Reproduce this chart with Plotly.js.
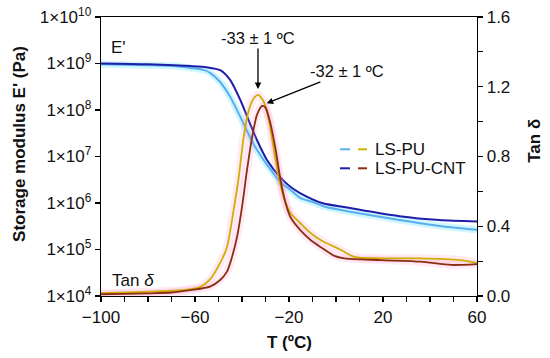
<!DOCTYPE html>
<html>
<head>
<meta charset="utf-8">
<script src="https://cdn.plot.ly/plotly-3.0.1.min.js"></script>
<style>html,body{margin:0;padding:0;background:#fff}#chart{width:550px;height:358px}</style>
</head>
<body>
<div id="chart"></div>
<script>
// ---- Data ----
// Storage modulus E' (Pa), LS-PU
const T_E_PU   = [-100, -90, -80, -70, -62, -56, -53.6, -49.3, -45, -40.7, -36.4, -33.6, -29.3, -23.6, -19.3, -15.3, -10, -4.7, 6, 27, 44, 60];
const E_PU     = [9.6e8, 9.4e8, 9.2e8, 8.9e8, 8.0e8, 7.2e8, 6.3e8, 4.0e8, 1.9e8, 7.1e7, 2.5e7, 1.38e7, 6.6e6, 2.8e6, 1.9e6, 1.29e6, 1.05e6, 8.3e5, 6.5e5, 4.3e5, 3.2e5, 2.65e5];
// Storage modulus E' (Pa), LS-PU-CNT
const T_E_CNT  = [-100, -80, -62, -55, -49.3, -45, -40.7, -36.4, -33.6, -29.3, -23.6, -19.3, -15.3, -6, 6, 27, 44, 60];
const E_CNT    = [1.0e9, 9.6e8, 8.8e8, 8.3e8, 7.2e8, 4.4e8, 1.64e8, 4.8e7, 2.24e7, 8.3e6, 3.5e6, 2.2e6, 1.64e6, 1.0e6, 7.8e5, 5.2e5, 4.3e5, 4.0e5];
// Tan delta, LS-PU
const T_TAN_PU = [-100, -90, -80, -70, -62, -58, -53.6, -49.3, -46.4, -43.6, -41.4, -39.3, -37.1, -35, -33.1, -30.7, -28.6, -26.4, -24.3, -22.1, -19.3, -15.3, -10.7, -6.4, 2.1, 7.7, 19, 36, 53, 60];
const TAN_PU   = [0.016, 0.02, 0.025, 0.03, 0.04, 0.05, 0.095, 0.19, 0.28, 0.49, 0.68, 0.91, 1.066, 1.134, 1.153, 1.114, 1.01, 0.837, 0.677, 0.56, 0.475, 0.42, 0.36, 0.32, 0.264, 0.225, 0.216, 0.216, 0.206, 0.19];
// Tan delta, LS-PU-CNT
const T_TAN_CNT = [-100, -90, -80, -70, -62, -53.6, -49.3, -46.4, -45, -42.1, -40, -37.9, -35.7, -33.6, -31.4, -30, -27.9, -25.7, -23.6, -21.4, -19.3, -15, -10.7, -6.4, -0.7, 3.6, 19, 36, 49, 60];
const TAN_CNT   = [0.01, 0.012, 0.015, 0.02, 0.034, 0.054, 0.092, 0.14, 0.19, 0.34, 0.51, 0.72, 0.91, 1.04, 1.09, 1.08, 0.99, 0.84, 0.665, 0.53, 0.45, 0.375, 0.32, 0.28, 0.23, 0.216, 0.206, 0.197, 0.178, 0.183];

const seriesNames = ["LS-PU", "LS-PU-CNT"];
const xTicks = [-100, -60, -20, 20, 60];
const yExp = [4, 5, 6, 7, 8, 9, 10];
const y2Ticks = [0.0, 0.4, 0.8, 1.2, 1.6];
const peakLabels = ["-33 ± 1 ºC", "-32 ± 1 ºC"];

const C = {pu: "#5aaeee", cnt: "#1e1ea8", tanPu: "#cdb000", tanCnt: "#8b2e12"};
const FONT = "Liberation Sans, Arial, sans-serif";
const SM = 0.7;

const traces = [
  // soft halos
  {x: T_TAN_PU, y: TAN_PU, yaxis: "y2", mode: "lines", line: {color: "rgba(255,140,200,0.18)", width: 8, shape: "spline", smoothing: SM}, hoverinfo: "skip", showlegend: false},
  {x: T_TAN_CNT, y: TAN_CNT, yaxis: "y2", mode: "lines", line: {color: "rgba(255,140,200,0.18)", width: 8, shape: "spline", smoothing: SM}, hoverinfo: "skip", showlegend: false},
  {x: T_E_PU, y: E_PU, mode: "lines", line: {color: "rgba(120,230,255,0.35)", width: 7, shape: "spline", smoothing: SM}, hoverinfo: "skip", showlegend: false},
  // main lines
  {x: T_TAN_PU, y: TAN_PU, yaxis: "y2", mode: "lines", name: seriesNames[0] + " tan δ", line: {color: C.tanPu, width: 1.8, shape: "spline", smoothing: SM}, showlegend: false},
  {x: T_TAN_CNT, y: TAN_CNT, yaxis: "y2", mode: "lines", name: seriesNames[1] + " tan δ", line: {color: C.tanCnt, width: 1.8, shape: "spline", smoothing: SM}, showlegend: false},
  {x: T_E_PU, y: E_PU, mode: "lines", name: seriesNames[0], line: {color: C.pu, width: 2, shape: "spline", smoothing: SM}, showlegend: false},
  {x: T_E_CNT, y: E_CNT, mode: "lines", name: seriesNames[1], line: {color: C.cnt, width: 2, shape: "spline", smoothing: SM}, showlegend: false}
];

const tickFont = {family: FONT, size: 17, color: "#111"};

const layout = {
  width: 550, height: 358,
  margin: {l: 101, r: 73, t: 17, b: 62, pad: 0},
  paper_bgcolor: "#fff", plot_bgcolor: "#fff",
  font: {family: FONT, color: "#111"},
  showlegend: false,
  xaxis: {
    range: [-100, 60], tickvals: xTicks, ticks: "outside", ticklen: 5, tickwidth: 1.2, tickcolor: "#000",
    minor: {dtick: 10, tick0: -100, ticks: "outside", ticklen: 5, tickwidth: 1.2, tickcolor: "#000"},
    showline: true, linecolor: "#000", linewidth: 1.3, mirror: true, showgrid: false, zeroline: false,
    tickfont: tickFont, title: {text: ""}
  },
  yaxis: {
    type: "log", range: [4, 10], tickvals: yExp.map(e => Math.pow(10, e)),
    ticktext: yExp.map(e => "1×10<sup>" + e + "</sup>"),
    ticks: "outside", ticklen: 5, tickwidth: 1.2, tickcolor: "#000",
    showline: true, linecolor: "#000", linewidth: 1.3, showgrid: false, zeroline: false,
    tickfont: tickFont
  },
  yaxis2: {
    overlaying: "y", side: "right", range: [0, 1.6], tickvals: y2Ticks, tickformat: ".1f",
    ticks: "outside", ticklen: 5, tickwidth: 1.2, tickcolor: "#000",
    minor: {dtick: 0.2, ticks: "outside", ticklen: 5, tickwidth: 1.2, tickcolor: "#000"},
    showline: true, linecolor: "#000", linewidth: 1.3, showgrid: false, zeroline: false,
    tickfont: tickFont
  },
  annotations: [
    {xref: "paper", yref: "paper", x: -0.2154, y: 0.545, text: "<b>Storage modulus E' (Pa)</b>", textangle: -90, showarrow: false, font: {family: FONT, size: 17, color: "#111"}, xanchor: "center", yanchor: "middle"},
    {xref: "paper", yref: "paper", x: 1.154, y: 0.556, text: "<b>Tan δ</b>", textangle: -90, showarrow: false, font: {family: FONT, size: 17, color: "#111"}, xanchor: "center", yanchor: "middle"},
    {xref: "paper", yref: "paper", x: 0.5, y: -0.165, text: "<b>T (ºC)</b>", showarrow: false, font: {family: FONT, size: 17, color: "#111"}, xanchor: "center", yanchor: "middle"},
    {xref: "paper", yref: "paper", x: 0.021, y: 0.889, text: "E'", showarrow: false, font: {family: FONT, size: 17, color: "#111"}, xanchor: "left", yanchor: "middle"},
    {xref: "paper", yref: "paper", x: 0.024, y: 0.057, text: "Tan <i>δ</i>", showarrow: false, font: {family: FONT, size: 17, color: "#111"}, xanchor: "left", yanchor: "middle"},
    {xref: "x", yref: "y2", x: -33.2, y: 1.187, ax: 0, ay: -51, text: peakLabels[0], showarrow: true, arrowhead: 2, arrowsize: 1, arrowwidth: 1.3, arrowcolor: "#000", standoff: 0, font: {family: FONT, size: 16.5, color: "#111"}},
    {xref: "x", yref: "y2", x: -29.5, y: 1.105, ax: 80, ay: -32, text: peakLabels[1], showarrow: true, arrowhead: 2, arrowsize: 1, arrowwidth: 1.3, arrowcolor: "#000", standoff: 0, font: {family: FONT, size: 16.5, color: "#111"}},
    {xref: "paper", yref: "paper", x: 0.7234, y: 0.5258, text: seriesNames[0], showarrow: false, font: {family: FONT, size: 17, color: "#111"}, xanchor: "left", yanchor: "middle"},
    {xref: "paper", yref: "paper", x: 0.7234, y: 0.4577, text: seriesNames[1], showarrow: false, font: {family: FONT, size: 17, color: "#111"}, xanchor: "left", yanchor: "middle"}
  ],
  shapes: [
    {type: "line", xref: "paper", yref: "paper", x0: 0.6356, x1: 0.6622, y0: 0.5258, y1: 0.5258, line: {color: C.pu, width: 2}},
    {type: "line", xref: "paper", yref: "paper", x0: 0.6835, x1: 0.7074, y0: 0.5258, y1: 0.5258, line: {color: C.tanPu, width: 2}},
    {type: "line", xref: "paper", yref: "paper", x0: 0.6356, x1: 0.6622, y0: 0.4577, y1: 0.4577, line: {color: C.cnt, width: 2}},
    {type: "line", xref: "paper", yref: "paper", x0: 0.6835, x1: 0.7074, y0: 0.4577, y1: 0.4577, line: {color: C.tanCnt, width: 2}}
  ]
};

Plotly.newPlot("chart", traces, layout, {staticPlot: true, displayModeBar: false});
</script>
</body>
</html>
